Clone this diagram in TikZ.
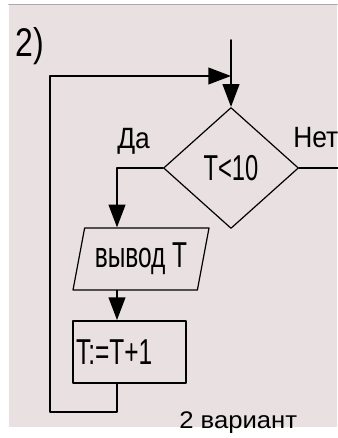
\documentclass[tikz,border=0pt]{standalone}
\usepackage{fontspec}
\setmainfont{Liberation Sans}
\usepackage{graphicx}
\usetikzlibrary{shapes.geometric,arrows.meta}
\definecolor{bgpink}{HTML}{E8E0E1}
\definecolor{topline}{HTML}{A9A9A9}
\newcommand{\narrowtxt}[2]{\scalebox{#1}[1]{#2}}
\begin{document}
\begin{tikzpicture}[x=0.75pt,y=-0.75pt,line cap=round,line join=round,
  link/.style={line width=1.4pt},
  flow/.style={link,-{Triangle[length=17pt,width=12.5pt]}},
  decision/.style={diamond,draw,line width=0.9pt,inner sep=0pt,
    minimum width=101.25pt,minimum height=90.75pt,font=\fontsize{27}{30}\selectfont},
  inout/.style={trapezium,draw,line width=0.9pt,trapezium left angle=70,
    trapezium right angle=110,trapezium stretches body,inner sep=0pt,
    minimum width=102pt,minimum height=46.5pt,font=\fontsize{27}{30}\selectfont},
  action/.style={rectangle,draw,line width=1.4pt,inner xsep=2.25pt,inner ysep=0pt,
    text width=80.25pt,align=left,minimum height=46.5pt,font=\fontsize{27}{30}\selectfont},
  answer/.style={anchor=base west,inner sep=0pt,font=\fontsize{22}{25}\selectfont}]
  \useasboundingbox (0,0) rectangle (337,438);
  \fill[bgpink] (9,5) rectangle (337,427);
  \draw[topline,line width=1.2pt] (9,4.5) -- (337,4.5);

  \node[anchor=base west,inner sep=0pt,font=\fontsize{30}{33}\selectfont] (num) at (15,57) {\narrowtxt{0.8}{2)}};

  \node[decision] (cond) at (231,168) {\narrowtxt{0.66}{T<10}};
  \node[inout] (out) at (141,259) {\narrowtxt{0.68}{вывод Т}};
  \node[action] (inc) at (129.5,352) {\narrowtxt{0.68}{T:=T+1}};

  \node[answer] (yes) at (117,149) {\narrowtxt{0.9}{Да}};
  \node[answer] (no) at (293,148) {\narrowtxt{0.9}{Нет}};

  \coordinate (start) at (231,40);
  \coordinate (bx) at (117,0);
  \coordinate (lpbot) at (50,412);
  \coordinate (lptop) at (50,76);
  \coordinate (noend) at (340,168);

  \draw[flow] (start) -- (cond.north);
  \draw[flow] (cond.west) -| (out.north -| bx);
  \draw[flow] (out.south -| bx) -- (inc.north -| bx);
  \draw[flow] (inc.south -| bx) |- (lpbot) -- (lptop) -- (lptop -| cond.north);
  \draw[link] (cond.east) -- (noend);

  \node[anchor=base west,inner sep=0pt,font=\fontsize{18}{20}\selectfont] (var) at (179,428) {\narrowtxt{1.07}{2 вариант}};
\end{tikzpicture}
\end{document}
